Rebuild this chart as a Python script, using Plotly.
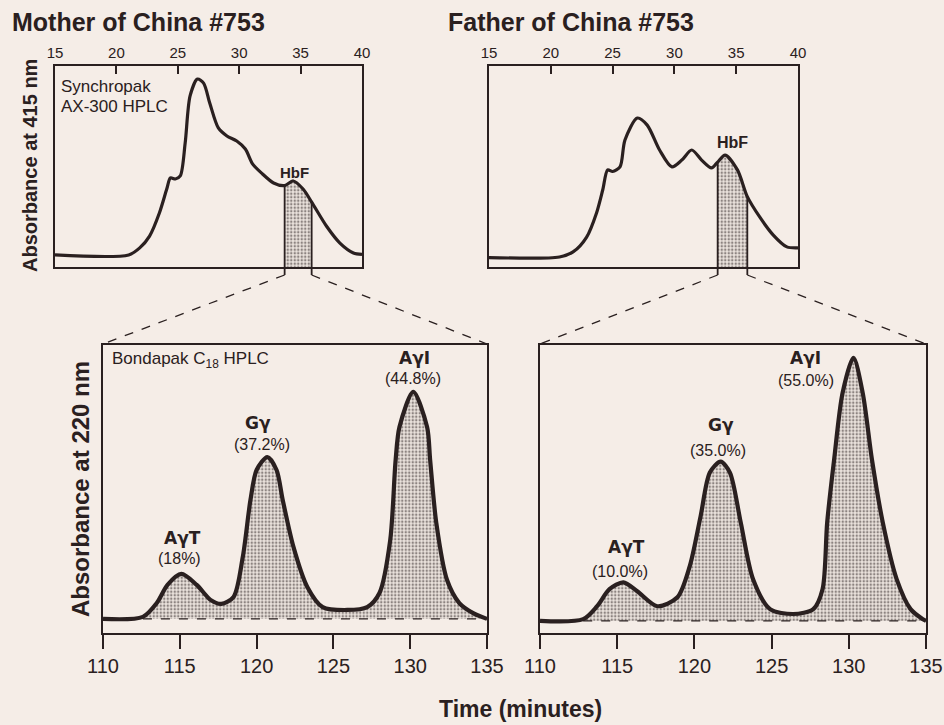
import plotly.graph_objects as go

W, H = 944, 725
BG = "#f5ede7"
INK = "#2a2020"
FONT = "Liberation Sans, Arial, Helvetica, sans-serif"
GFONT = "DejaVu Sans, Liberation Sans, sans-serif"

# ---------------- data ----------------
# Synchropak AX-300 HPLC, absorbance at 415 nm (relative units), time 15-40
mother_top_t = [15, 21.0, 21.9, 22.7, 23.5, 24.1, 24.4, 24.8, 25.2, 25.6, 26.0, 26.6, 27.1,
                27.6, 28.3, 29.0, 29.8, 30.5, 31.1, 31.9, 32.8, 33.7, 34.4, 35.2, 35.9,
                37.1, 38.2, 39.3, 40]
mother_top_a = [6.0, 6.0, 9.5, 15.4, 26.9, 38.8, 44.3, 43.8, 45.3, 61.7, 85.1, 93.5, 91.5,
                81.6, 69.2, 65.2, 62.7, 58.7, 51.2, 46.3, 41.8, 40.5, 42.8, 38.8, 32.3,
                20.4, 11.9, 7.0, 6.3]
mother_hbf = [33.7, 35.9]

father_top_t = [15, 20.7, 21.8, 22.9, 23.7, 24.2, 24.6, 25.0, 25.6, 26.0, 27.0, 27.8, 28.8,
                29.8, 30.6, 31.4, 32.2, 33.0, 33.5, 34.1, 35.1, 35.9, 36.9, 38.0, 39.1, 40]
father_top_a = [4.7, 5.0, 7.5, 14.9, 26.9, 38.3, 48.3, 47.5, 49.8, 63.2, 74.1, 70.6, 58.2,
                49.8, 53.2, 58.2, 53.2, 49.3, 52.2, 55.7, 48.3, 35.0, 24.9, 15.9, 10.0, 9.5]
father_hbf = [33.5, 35.9]

# Bondapak C18 HPLC, absorbance at 220 nm (relative units), time 110-135
mother_bot_t = [110, 112.6, 113.5, 114.2, 115.1, 116.1, 117.0, 117.7, 118.5, 119.1, 119.6,
                120.0, 120.7, 121.3, 121.7, 122.4, 123.3, 124.3, 125.9, 127.2, 128.0, 128.7,
                129.05, 129.3, 130.2, 131.1, 131.3, 131.7, 132.4, 133.2, 134.1, 135]
mother_bot_a = [4.9, 5.6, 10.4, 16.7, 20.5, 16.7, 11.5, 10.1, 12.5, 26.4, 46.2,
                56.6, 61.1, 56.6, 46.2, 29.9, 16.0, 9.0, 8.0, 9.0, 13.9, 32.3,
                60.0, 71.5, 83.7, 71.5, 60.0, 38.2, 18.4, 10.4, 6.9, 4.9]
mother_baseline = 4.9

father_bot_t = [110, 112.8, 113.7, 114.5, 115.4, 116.3, 117.6, 118.9, 119.7, 120.4, 121.0,
                121.7, 122.3, 123.0, 123.8, 124.9, 126.4, 127.7, 128.3, 128.6, 129.05, 129.6,
                130.3, 130.9, 131.5, 132.2, 133.1, 134.0, 134.8, 135]
father_bot_a = [4.2, 4.8, 9.3, 15.2, 17.6, 14.5, 9.3, 12.4, 23.2, 40.5, 55.7,
                59.5, 55.7, 38.4, 18.7, 8.3, 6.6, 8.3, 15.2, 38.4, 60.2, 83.4,
                95.5, 83.4, 60.2, 38.4, 18.7, 8.3, 4.8, 4.2]
father_baseline = 4.2

peak_names = ["A\u03b3T", "G\u03b3", "A\u03b3I"]
mother_pct = ["(18%)", "(37.2%)", "(44.8%)"]
father_pct = ["(10.0%)", "(35.0%)", "(55.0%)"]

top_ticks = [15, 20, 25, 30, 35, 40]
bot_ticks = [110, 115, 120, 125, 130, 135]

# ---------------- layout geometry (window pixel -> paper) ----------------
def px(x):
    return x / W

def py(y):
    return 1 - y / H

dom = {
    1: ([px(55), px(362)], [py(267), py(66)]),
    2: ([px(489), px(798)], [py(267), py(66)]),
    3: ([px(103), px(487)], [py(633), py(345)]),
    4: ([px(540), px(926)], [py(633), py(345)]),
}
TOP_RANGE = [15, 40]
BOT_RANGE = [110, 135]
Y_RANGE = [0, 100]

fig = go.Figure()

PATTERN = dict(shape=".", fgcolor="#2e2424", bgcolor="#ebe3dd", size=3.5, solidity=0.4)


def add_top(t, a, hbf, n):
    xa, ya = f"x{n}", f"y{n}"
    sub_t = [x for x in t if hbf[0] <= x <= hbf[1]]
    sub_a = [v for x, v in zip(t, a) if hbf[0] <= x <= hbf[1]]
    fig.add_trace(go.Scatter(x=sub_t, y=sub_a, mode="lines", line=dict(width=0, shape="spline", smoothing=0.8),
                             fill="tozeroy", fillpattern=PATTERN, fillcolor="#ebe3dd",
                             xaxis=xa, yaxis=ya, hoverinfo="skip"))
    fig.add_trace(go.Scatter(x=t, y=a, mode="lines", line=dict(color=INK, width=3.2, shape="spline", smoothing=0.8),
                             xaxis=xa, yaxis=ya))


def add_bot(t, a, base, n):
    xa, ya = f"x{n}", f"y{n}"
    start = t[1]
    sub_t = [x for x in t if x >= start]
    sub_a = [v for x, v in zip(t, a) if x >= start]
    fig.add_trace(go.Scatter(x=[start, t[-1]], y=[base, base], mode="lines",
                             line=dict(color=INK, width=1.2, dash="dash"),
                             xaxis=xa, yaxis=ya, hoverinfo="skip"))
    fig.add_trace(go.Scatter(x=sub_t, y=sub_a, mode="lines", line=dict(width=0, shape="spline", smoothing=0.8),
                             fill="tonexty", fillpattern=PATTERN, fillcolor="#ebe3dd",
                             xaxis=xa, yaxis=ya, hoverinfo="skip"))
    fig.add_trace(go.Scatter(x=t, y=a, mode="lines", line=dict(color=INK, width=4.2, shape="spline", smoothing=0.8),
                             xaxis=xa, yaxis=ya))


add_top(mother_top_t, mother_top_a, mother_hbf, 1)
add_top(father_top_t, father_top_a, father_hbf, 2)
add_bot(mother_bot_t, mother_bot_a, mother_baseline, 3)
add_bot(father_bot_t, father_bot_a, father_baseline, 4)

axis_common = dict(showline=True, linecolor=INK, linewidth=2, mirror=True, showgrid=False,
                   zeroline=False, fixedrange=True)
layout = dict(width=W, height=H, margin=dict(l=0, r=0, t=0, b=0, pad=0, autoexpand=False),
              showlegend=False, autosize=False,
              paper_bgcolor=BG, plot_bgcolor=BG, font=dict(family=FONT, color=INK))
for n in (1, 2):
    layout[f"xaxis{n}"] = dict(domain=dom[n][0], anchor=f"y{n}", range=TOP_RANGE, side="top",
                               tickvals=top_ticks, ticks="inside", ticklen=8, tickwidth=2,
                               ticklabeloverflow="allow",
                               tickcolor=INK, tickfont=dict(size=15, color=INK), **axis_common)
    layout[f"yaxis{n}"] = dict(domain=dom[n][1], anchor=f"x{n}", range=Y_RANGE,
                               showticklabels=False, ticks="", **axis_common)
for n in (3, 4):
    layout[f"xaxis{n}"] = dict(domain=dom[n][0], anchor=f"y{n}", range=BOT_RANGE, side="bottom",
                               tickvals=bot_ticks, ticks="outside", ticklen=14, tickwidth=2,
                               ticklabeloverflow="allow",
                               tickcolor=INK, tickfont=dict(size=20, color=INK), **axis_common)
    layout[f"yaxis{n}"] = dict(domain=dom[n][1], anchor=f"x{n}", range=Y_RANGE,
                               showticklabels=False, ticks="", **axis_common)
fig.update_layout(**layout)


# ---------------- connectors (zoom lines) ----------------
def xpaper(xv, n, rng):
    d = dom[n][0]
    return d[0] + (xv - rng[0]) / (rng[1] - rng[0]) * (d[1] - d[0])


def ypaper(v, n):
    d = dom[n][1]
    return d[0] + (v - Y_RANGE[0]) / (Y_RANGE[1] - Y_RANGE[0]) * (d[1] - d[0])


shapes = []
for n_top, n_bot, t, a, hbf in ((1, 3, mother_top_t, mother_top_a, mother_hbf),
                                 (2, 4, father_top_t, father_top_a, father_hbf)):
    for k, edge in enumerate(hbf):
        v = a[t.index(edge)]
        xe = xpaper(edge, n_top, TOP_RANGE)
        shapes.append(dict(type="line", xref="paper", yref="paper", x0=xe, x1=xe,
                           y0=ypaper(v, n_top), y1=py(275), line=dict(color=INK, width=1.8)))
        xb = dom[n_bot][0][k]
        shapes.append(dict(type="line", xref="paper", yref="paper", x0=xe, x1=xb,
                           y0=py(275), y1=py(344), line=dict(color=INK, width=1.3, dash="dash")))
fig.update_layout(shapes=shapes)

# ---------------- text ----------------
ann = []


def txt(text, x, y, size, bold=False, xanchor="center", xref="paper", yref="paper", angle=0,
        yanchor="middle", family=FONT):
    ann.append(dict(text=f"<b>{text}</b>" if bold else text, x=x, y=y, xref=xref, yref=yref,
                    showarrow=False, xanchor=xanchor, yanchor=yanchor, textangle=angle,
                    font=dict(size=size, color=INK, family=family)))


txt("Mother of China #753", px(10), py(22), 25, bold=True, xanchor="left")
txt("Father of China #753", px(446), py(22), 25, bold=True, xanchor="left")
txt("Absorbance at 415 nm", px(30), py(166), 20, bold=True, angle=-90)
txt("Absorbance at 220 nm", px(80), py(489), 24, bold=True, angle=-90)
txt("Time (minutes)", px(520), py(709), 23, bold=True)
txt("Synchropak", px(59), py(86), 17, xanchor="left")
txt("AX-300 HPLC", px(59), py(107), 17, xanchor="left")
txt("Bondapak C<sub>18</sub> HPLC", px(110), py(360), 17, xanchor="left")

txt("HbF", 34.5, 46.8, 15, bold=True, xref="x1", yref="y1")
txt("HbF", 34.7, 61.7, 16, bold=True, xref="x2", yref="y2")

mother_name_pos = [(115.2, 33.0), (120.1, 72.9), (130.3, 95.5)]
mother_pct_pos = [(115.0, 25.7), (120.35, 65.3), (130.2, 88.2)]
father_name_pos = [(115.6, 29.9), (121.7, 72.2), (127.2, 95.5)]
father_pct_pos = [(115.2, 21.5), (121.5, 63.5), (127.2, 87.8)]
for name, p, (nx, ny), (qx, qy) in zip(peak_names, mother_pct, mother_name_pos, mother_pct_pos):
    txt(name, nx, ny, 17, bold=True, xref="x3", yref="y3", family=GFONT)
    txt(p, qx, qy, 16, xref="x3", yref="y3")
for name, p, (nx, ny), (qx, qy) in zip(peak_names, father_pct, father_name_pos, father_pct_pos):
    txt(name, nx, ny, 17, bold=True, xref="x4", yref="y4", family=GFONT)
    txt(p, qx, qy, 16, xref="x4", yref="y4")

fig.update_layout(annotations=ann)

# remove the default 8px page margin so the 944x725 figure fills the window exactly
PAGE_JS = ("document.body.style.margin='0';document.body.style.padding='0';"
           "document.body.style.overflow='hidden';"
           "document.body.style.background='" + BG + "';"
           "document.documentElement.style.background='" + BG + "';")
fig.write_html("out.html", post_script=PAGE_JS, config={"displayModeBar": False})
